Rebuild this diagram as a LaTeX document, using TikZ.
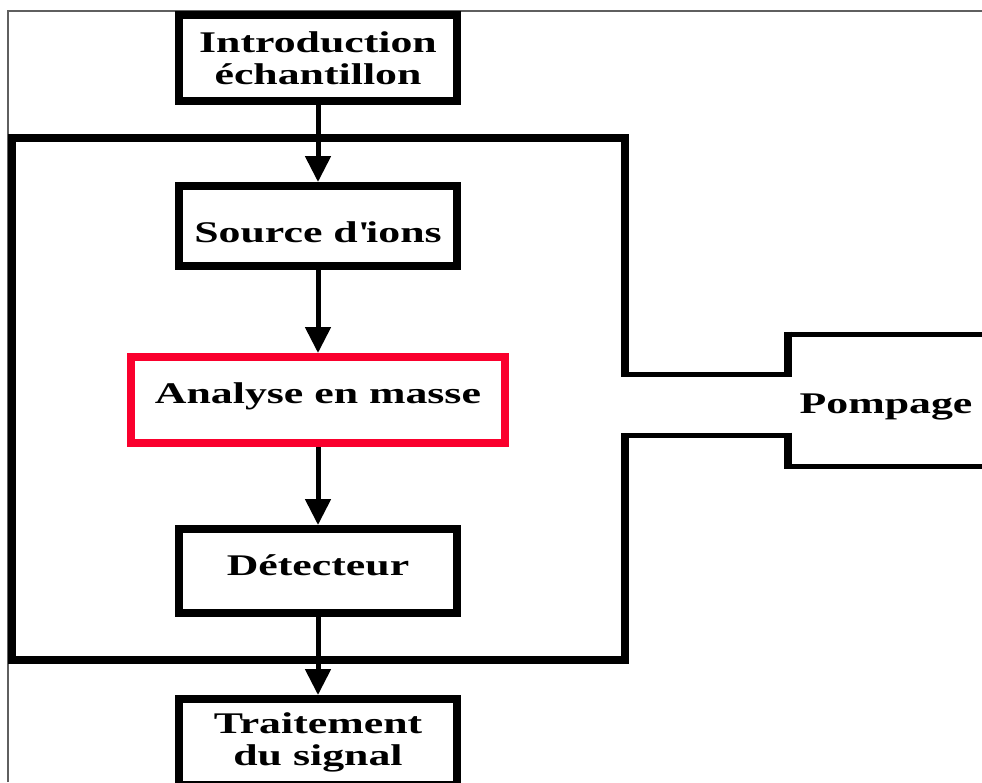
\documentclass[tikz,border=0pt]{standalone}
\usepackage{fontspec}
\newfontfamily\lblfont{Liberation Serif}[FakeStretch=1.46]
\usetikzlibrary{arrows.meta}
\definecolor{boxred}{RGB}{250,0,45}
\definecolor{framegray}{RGB}{95,95,95}
\tikzset{
  lbl/.style={font=\lblfont\bfseries\fontsize{30}{32}\selectfont, align=center, inner sep=0pt},
  stage/.style={lbl, draw=black, line width=8pt, rectangle,
    minimum width=278pt, minimum height=86pt},
  flow/.style={line width=5pt, -{Triangle[width=25pt,length=26pt]}},
  wall/.style={line width=8pt, line join=miter},
  pipe/.style={line width=5pt},
}
\begin{document}
\begin{tikzpicture}[x=1pt,y=-1pt]
\useasboundingbox (0,0) rectangle (982,782);
\fill[white] (0,0) rectangle (982,782);

% outer page frame
\draw[framegray, line width=1.5pt] (8,782) -- (8,11) -- (982,11);

% vacuum enclosure, open on the right towards the pump
\draw[wall] (625,376.5) -- (625,138) -- (12,138) -- (12,660) -- (625,660) -- (625,432.5);

% pumping line and pump housing
\draw[pipe] (621,374) -- (792,374);
\draw[pipe] (621,435) -- (792,435);
\draw[pipe] (784,334) -- (990,334);
\draw[pipe] (784,466) -- (990,466);
\draw[wall] (788,331.5) -- (788,376.5);
\draw[wall] (788,432.5) -- (788,468.5);
\node[lbl, text height=26pt, text depth=0pt] (pump) at (886,400) {Pompage};

% instrument stages
\node[stage] (intro) at (318,58) {Introduction\\échantillon};
\node[stage, minimum height=80pt, text height=32pt, text depth=0pt] (src) at (318,226) {Source d\textquotesingle ions};
\node[stage, draw=boxred, minimum width=374pt, text height=20pt, text depth=14pt] (ana) at (318,400) {Analyse en masse};
\node[stage, minimum height=84pt, text height=20pt, text depth=12pt] (det) at (318,571) {Détecteur};
\node[stage] (proc) at (318,742) {Traitement\\du signal};

% signal flow
\draw[flow] (intro.south) -- (src.north);
\draw[flow] (src.south) -- (ana.north);
\draw[flow] (ana.south) -- (det.north);
\draw[flow] (det.south) -- (proc.north);
\end{tikzpicture}
\end{document}
